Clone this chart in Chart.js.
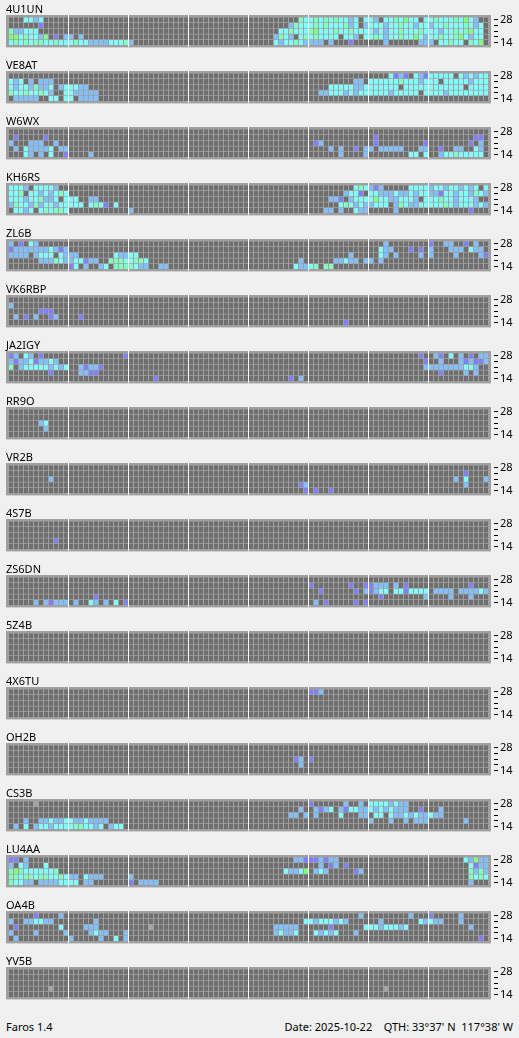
<!DOCTYPE html>
<html>
<head>
<meta charset="utf-8">
<title>Faros</title>
<script src="https://cdn.jsdelivr.net/npm/chart.js@4.4.0/dist/chart.umd.min.js"></script>
<style>
  html, body { margin: 0; padding: 0; background: #f0f0f0; }
  body { width: 519px; height: 1038px; position: relative; overflow: hidden;
         font-family: 'Noto Sans', sans-serif; font-size: 11px; color: #000; }
  .panel { position: absolute; left: 0; width: 519px; height: 56px; }
  .panel .name { position: absolute; left: 6px; top: 3px; line-height: 11px; }
  .panel canvas { position: absolute; left: 0; top: 0; }
  .foot { position: absolute; top: 1021px; line-height: 11px; white-space: pre; }
</style>
</head>
<body>
<script>
'use strict';

// ─── DATA ────────────────────────────────────────────────────────────────────
// one string per band (28 MHz first, 14 MHz last), 96 quarter-hour slots,
// written as 8 groups of 12 slots; '-' = a group with nothing heard
// . none   c cyan   m mint   b blue   p violet   g green   x grey
const stations = ['4U1UN', 'VE8AT', 'W6WX', 'KH6RS', 'ZL6B', 'VK6RBP', 'JA2IGY', 'RR9O', 'VR2B',
                  '4S7B', 'ZS6DN', '5Z4B', '4X6TU', 'OH2B', 'CS3B', 'LU4AA', 'OA4B', 'YV5B'];
const bandTicks = ['14', '', '', '', '28'];   // bottom to top

const rows4U1UN = [
  '...ccbc..... - - - ..........mc cmcmcmccbc.c cb.ccmcgcc.c cmcccmcgcb..',
  '......p..... - - - ........bmcc cmcmcccmbc.b cccbccmccbcc bccmcccmcbc.',
  'mbbccc...... - - - ......ccmccc mgcccmccmccc cbcbccmcccmc ccbccmcmgcc.',
  'ggcmccbg.p.b b.b......... - - .....bmcb.cm cmcccc.ccb.c cmcbccmccgcb ccmccmgcbcc.',
  'cmcmcmmccmcc cmccbbbbcccm b........... - .....cbccmcb bbb.b...p... ...b......bb b.ccmcc.mcg.'
];
const rowsVE8AT = [
  '- - - - - - ....cpbp.cbp ccccc.cbcbcc',
  'cbc.b.bbb... - - - - .........bb. ccccccmcccbc cc.cccccbccc',
  'cbccbmbbc.bc ccbb........ - - - ....cccccbbc cccccc.ccccc ccccccc.cccc',
  'mccmccmcb..c cbbbbb...... - - - ..bbcccbcbcc ccccbccccc.c cccbcccccccc',
  '.bbbbb..cc.c c.bbbb...... - - - - - -'
];
const rowsW6WX = [
  '- - - - - - - -',
  '.p.....p.... - - - - - .p.......... .........pp.',
  'b...bbb..b.. - - - - .pb......... .p.........p ........p.b.',
  '.b.cbbbbc.bb - - - - ....b.b..p.b b.bbbbb...bb ..p..bb..cb.',
  '...cb.b.c..p ....b....... - - - ......b....b ........cc.c ..bccmccccc.'
];
const rowsKH6RS = [
  'cccb.ccccb.. - - - - .........cmc bpb.....cccc bccbccbcbc.c',
  'ccm.ccbcbcmc - - - - .......bccp. ccbbbcbbcbcc bbpccbccbmcb',
  'cccbccmbbc.c cc..bb...... - - - ....bbp.bccc cgccbbcccb.c ccmccbcccb..',
  'bmccbmbccbcc ccc.cmcp.c.. - - - ......cmcbcb bccc.bmcbbcc cccmcbcccbcb',
  '.ccbc.cmcmmc - b........... - - ...bb.b..cbb .....b...... ........p...'
];
const rowsZL6B = [
  'b.p.cb...... - - - - - ...b........ p..bb..p.b..',
  'pbbbbbbbcbpb - - - - - ..cbb...p.p. b...bbb.cbb.',
  'bbbb.bccc.cb bb.......cbb cc.......... - - ........b... ..cb.b....b. b....b....bp',
  '......bbbmcb bccpbb..mmmc cmmc........ - ..........b. .....bbcbb.b b.b......... -',
  '- pc.b..bc.mmm mcbb..bb.... - .........cbb cm.mm....... - -'
];
const rowsVK6RBP = [
  '- - - - - - - -',
  'b........... - - - - - - -',
  '......ppp... - - - - - - -',
  '.b.p.b..pb.. ..p......... - - - - - -',
  '- - - - - .......p.... - -'
];
const rowsJA2IGY = [
  'pb.cb.p..... ...........p - - - - ..........p. .bp.c.b.p.bb',
  'bpbbcpbbcb.. - - - - - ...........p ..b...bpbppb',
  'm.bcccccbcbc ..bpbbp..... - - - - ...........b bbbbbbbccb..',
  '........p... ..bbpp...... - - - - - ..p....b.b..',
  '- - .....p...... - ........p.b. - - -'
];
const rowsRR9O = [
  '- - - - - - - -',
  '- - - - - - - -',
  '......bc.... - - - - - - -',
  '.......b.... - - - - - - -',
  '- - - - - - - -'
];
const rowsVR2B = [
  '- - - - - - - -',
  '- - - - - - - .......p....',
  '........b... - - - - - - .....b.c...b',
  '- - - - ..........pb - - .......b....',
  '- - - - ...........p .p..p....... - -'
];
const rows4S7B = [
  '- - - - - - - -',
  '- - - - - - - -',
  '- - - - - - - -',
  '.........p.. - - - - - - -',
  '- - - - - - - -'
];
const rowsZS6DN = [
  '- - - - - - - -',
  '- - - - - p.......p..p pbbb.b.p.... ........p...',
  '- - - - - ..p......p.b pbcc.ccpcccc .bbbb.bbbbcb',
  '- .....p...... - - - - ..p........b ....b...b...',
  '.....b.bpbbb .b..cb.b.c.p - - - .b.p.....p.p - -'
];
const rows5Z4B = [
  '- - - - - - - -',
  '- - - - - - - -',
  '- - - - - - - -',
  '- - - - - - - -',
  '- - - - - - - -'
];
const rows4X6TU = [
  '- - - - - ppb......... - -',
  '- - - - - - - -',
  '- - - - - - - -',
  '- - - - - - - -',
  '- - - - - - - -'
];
const rowsOH2B = [
  '- - - - - - - -',
  '- - - - - - - -',
  '- - - - .........pb. p........... - -',
  '- - - - ..........b. - - -',
  '- - - - - - - -'
];
const rowsCS3B = [
  '.....x...... - - - - p......b..b. ccccbcbb.... -',
  '- - - - ..........b. .bpbc.bpccbb cbcbcbbb..p. ..b.........',
  '- - - - ........bb.b .b....c...bb .cc.cbbcbcbb cbb.........',
  '...b..bbcbbc cbbcbbbb.... - - - - b...b..b.bbb .......b....',
  '.b.c.bccbccc cmmccbc.bcc. - - - - - -'
];
const rowsLU4AA = [
  'pp.b........ - - - .........bbp ppbpbb...... - .......cbgbb',
  'b.cb...c.... - - - - ..b.pb.p.... - ........cpbb',
  'mgmccccccm.. - - - .......cbbcg .bcb.....pb. - ........mbmb',
  'mmcmmcmmccmc bb.cbbb..... b........... - - - - ........mcmc',
  'mccbb.bbbbcc cc.bb....... p.bbbb...... - - - - ........b...'
];
const rowsOA4B = [
  '.....p....b. - - - - ..........b. ........b... p.....b.....',
  'b..bbccbb... .....b...... - - ...........c cbcccbcb.... ..b.......cb cbb...b.....',
  '.p........c. ...bbb...... ....x....... - .....bbbbb.. ....p......c ccbcccbc.... ........b...',
  'b....b.....b ....bcbb...b - - .....bcbbc.. .cbcbc...b.. - -',
  '.b.......... b.....b..c.b - - - - - ..........p.'
];
const rowsYV5B = [
  '- - - - - - - -',
  '- - - - - - - -',
  '- - - - - - - -',
  '........x... - - - - - ...x........ -',
  '- - - - - - - -'
];

const grids = [rows4U1UN, rowsVE8AT, rowsW6WX, rowsKH6RS, rowsZL6B, rowsVK6RBP, rowsJA2IGY, rowsRR9O,
               rowsVR2B, rows4S7B, rowsZS6DN, rows5Z4B, rows4X6TU, rowsOH2B, rowsCS3B, rowsLU4AA,
               rowsOA4B, rowsYV5B];

// ─── STYLE ───────────────────────────────────────────────────────────────────
const CELL_COLORS = {
  '.': '#6f6f6f', c: '#80ffff', m: '#80ffc0', b: '#80c0ff',
  p: '#8080ff', g: '#80ff80', x: '#a4a4a4'
};
const PANEL_BG = '#a0a0a0';
const SLOTS = 96, PER_GROUP = 12;
const HALF_CELL = 3 / 7;          // cell height in band units

function expandRow(str) {
  return str.split(' ')
    .map(g => g === '-' ? '.'.repeat(PER_GROUP) : g)
    .join('')
    .padEnd(SLOTS, '.')
    .slice(0, SLOTS)
    .split('');
}

const panelBg = {
  id: 'panelBg',
  beforeDraw(chart) {
    const { ctx, chartArea: a } = chart;
    ctx.save();
    ctx.fillStyle = PANEL_BG;
    ctx.fillRect(a.left, a.top, a.right - a.left, a.bottom - a.top);
    ctx.restore();
  }
};

function renderPanel(k) {
  const wrap = document.createElement('div');
  wrap.className = 'panel';
  wrap.style.top = (56 * k) + 'px';
  const name = document.createElement('div');
  name.className = 'name';
  name.textContent = stations[k];
  const canvas = document.createElement('canvas');
  canvas.width = 519; canvas.height = 56;
  wrap.appendChild(canvas);
  wrap.appendChild(name);
  document.body.appendChild(wrap);

  const datasets = grids[k].map((row, r) => {
    const cells = expandRow(row);
    const band = 4 - r;
    return {
      data: cells.map((_, i) => ({ x: i, y: [band - HALF_CELL, band + HALF_CELL] })),
      backgroundColor: cells.map(ch => CELL_COLORS[ch] || CELL_COLORS['.'])
    };
  });

  new Chart(canvas, {
    type: 'bar',
    data: { datasets },
    plugins: [panelBg],
    options: {
      responsive: false,
      animation: false,
      events: [],
      layout: { padding: { left: 6, top: 15, right: 0, bottom: 1 } },
      plugins: { legend: { display: false }, tooltip: { enabled: false } },
      datasets: {
        bar: { grouped: false, barPercentage: 0.8, categoryPercentage: 1,
               maxBarThickness: 4, borderWidth: 0, inflateAmount: 0 }
      },
      scales: {
        x: {
          type: 'linear', min: -1, max: SLOTS, offset: false,
          afterBuildTicks: s => {
            const t = [];
            for (let h = PER_GROUP; h < SLOTS; h += PER_GROUP) t.push({ value: h - 0.5 });
            s.ticks = t;
          },
          afterFit: s => { s.height = 0; },
          ticks: { display: false },
          grid: { color: '#ffffff', lineWidth: 1, drawTicks: false, offset: false },
          border: { display: false }
        },
        y: {
          type: 'linear', position: 'right', min: -6 / 7, max: 34 / 7,
          afterBuildTicks: s => { s.ticks = bandTicks.map((_, v) => ({ value: v })); },
          afterFit: s => { s.width = 28; },
          ticks: {
            autoSkip: false, padding: 2, color: '#000',
            font: { family: 'Noto Sans', size: 11 },
            callback: v => bandTicks[v] ?? ''
          },
          grid: { drawOnChartArea: false, drawTicks: true, tickLength: 7,
                  tickColor: '#000', tickWidth: 1, tickBorderDash: [0, 3, 4, 10] },
          border: { display: false }
        }
      }
    }
  });
}

stations.forEach((_, k) => renderPanel(k));

const footLeft = document.createElement('div');
footLeft.className = 'foot';
footLeft.style.left = '6px';
footLeft.textContent = 'Faros 1.4';
document.body.appendChild(footLeft);

const footRight = document.createElement('div');
footRight.className = 'foot';
footRight.style.right = '6px';
footRight.textContent = "Date: 2025-10-22    QTH: 33°37' N  117°38' W";
document.body.appendChild(footRight);
</script>
</body>
</html>
